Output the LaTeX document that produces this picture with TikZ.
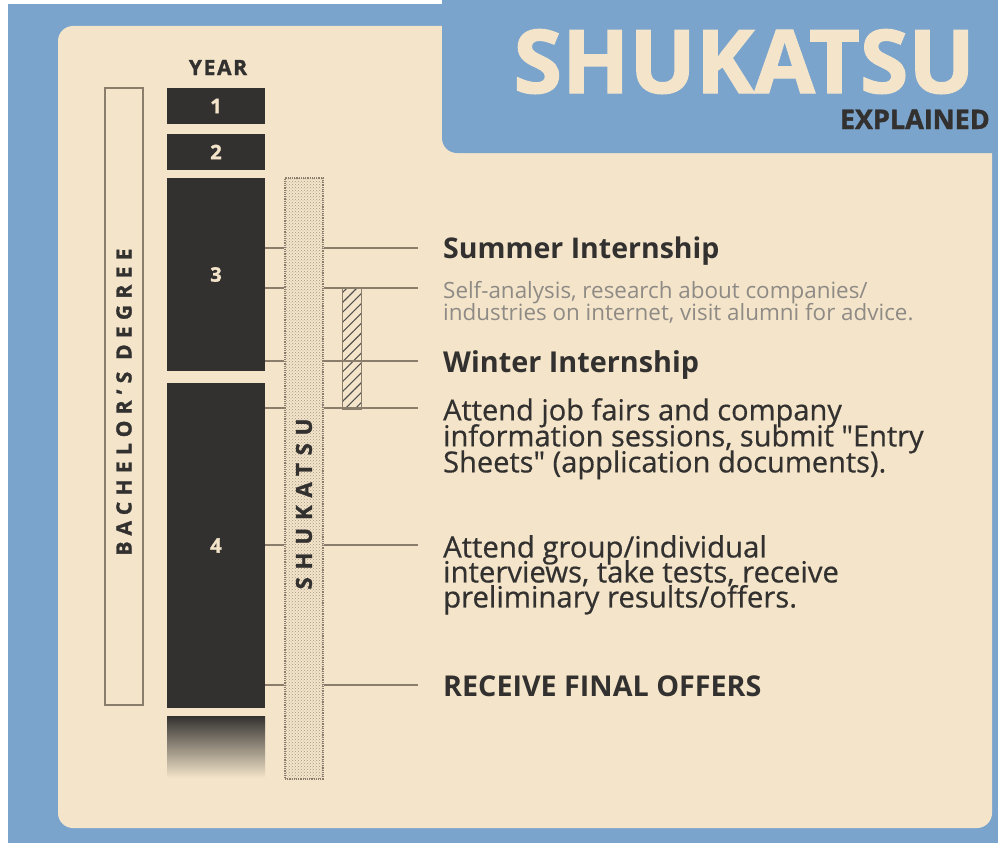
\documentclass[tikz,border=0pt]{standalone}
\usepackage{fontspec}
\setmainfont{Open Sans}
\usetikzlibrary{patterns,patterns.meta}
\definecolor{bgBlue}{HTML}{7BA4CC}
\definecolor{cream}{HTML}{F4E5CA}
\definecolor{ink}{HTML}{333130}
\definecolor{tickGray}{HTML}{8A7D6C}
\definecolor{softGray}{HTML}{8E8A85}
\newcommand{\fsz}[2]{\fontsize{#1}{#2}\selectfont}
\newcommand{\heavy}{\bfseries\addfontfeatures{FakeBold=1.5}}

\begin{document}
\begin{tikzpicture}[x=1pt,y=-1pt,
  yearbox/.style={fill=ink,inner sep=0pt,minimum width=98pt,text=cream,font=\heavy\fsz{20}{20}},
  railbox/.style={inner sep=0pt,minimum width=38pt},
  tick/.style={draw=tickGray,line width=1.3pt},
  note/.style={inner sep=0pt,align=left,text=ink,execute at begin node={\lineskiplimit=-40pt}}]
  \useasboundingbox (0,0) rectangle (998,843);
  \fill[white] (0,0) rectangle (998,843);
  \fill[bgBlue] (8,4) rectangle (998,843);
  \fill[cream,rounded corners=15pt] (58,26) rectangle (992,828);
  \fill[bgBlue,rounded corners=15pt] (442,-20) -- (442,153) -- (1020,153) -- (1020,-20) -- cycle;
  % заголовок
  \node[anchor=base east,inner sep=0pt,text=cream,font=\heavy\fsz{88}{88}] (title) at (975,93) {SHUKATSU};
  \node[anchor=base east,inner sep=0pt,text=ink,font=\heavy\fsz{27}{27}] (subtitle) at (990,129) {EXPLAINED};
  \node[anchor=base,inner sep=0pt,text=ink,font={\heavy\fsz{21}{21}\addfontfeatures{LetterSpace=8}}] (yearhead) at (218,75) {YEAR};
  % годы обучения
  \node[yearbox,minimum height=36pt] (yr1) at (216,106) {1};
  \node[yearbox,minimum height=36pt] (yr2) at (216,152) {2};
  \node[yearbox,minimum height=193pt] (yr3) at (216,274.5) {3};
  \node[yearbox,minimum height=325pt] (yr4) at (216,545.5) {4};
  \node[inner sep=0pt,minimum width=98pt,minimum height=62pt,top color=ink,bottom color=cream] (yr5) at (216,747) {};
  \node[railbox,draw=tickGray,line width=1.3pt,minimum height=617pt] (bach) at (124,396.5) {};
  \node[rotate=90,inner sep=0pt,text=ink,font={\heavy\fsz{21}{21}\addfontfeatures{LetterSpace=30}}] (bachlabel) at (124,402) {BACHELOR’S DEGREE};
  \node[railbox,minimum height=601pt,draw=tickGray,densely dotted,line width=1.2pt,pattern=crosshatch dots,pattern color=tickGray!80] (bar) at (304,478.5) {};
  \node[rotate=90,inner sep=0pt,text=ink,font={\heavy\fsz{22}{22}\addfontfeatures{LetterSpace=36}}] (barlabel) at (304,504) {SHUKATSU};
  \node[inner sep=0pt,minimum width=19pt,minimum height=121pt,draw=tickGray,line width=1pt,pattern={Lines[angle=45,distance=7pt,line width=1.1pt]},pattern color=ink!85] (hatch) at (351.5,348.5) {};
  % отметки
  \coordinate (c1) at (418,248);
  \coordinate (c2) at (418,288);
  \coordinate (c3) at (418,361);
  \coordinate (c4) at (418,408);
  \coordinate (c5) at (418,545);
  \coordinate (c6) at (418,685);
  \foreach \p/\q in {c1/yr3,c2/yr3,c3/yr3,c4/yr4,c5/yr4,c6/yr4}{
    \draw[tick] (\q.east |- \p) -- (bar.west |- \p);
    \draw[tick] (bar.east |- \p) -- (\p);
  }
  \node[note,anchor=base west,font=\bfseries\fsz{28.5}{28.5}] (summer) at (443,258) {Summer Internship};
  \node[note,anchor=north west,text=softGray,font=\fsz{22.4}{22}] (selfwork) at (443,281) {Self-analysis, research about companies/\\industries on internet, visit alumni for advice.};
  \node[note,anchor=base west,font=\bfseries\fsz{28.8}{28.8}] (winter) at (443,372) {Winter Internship};
  \node[note,anchor=north west,font={\addfontfeatures{FakeBold=0.6}\fsz{29}{26}}] (jobfair) at (443,398) {Attend job fairs and company\\information sessions, submit \textquotedbl Entry\\Sheets\textquotedbl{} (application documents).};
  \node[note,anchor=north west,font={\addfontfeatures{FakeBold=0.6}\fsz{29.3}{25}}] (interview) at (443,535) {Attend group/individual\\interviews, take tests, receive\\preliminary results/offers.};
  \node[note,anchor=base west,font=\bfseries\fsz{28.7}{28.7}] (offers) at (443,696) {RECEIVE FINAL OFFERS};
\end{tikzpicture}
\end{document}
